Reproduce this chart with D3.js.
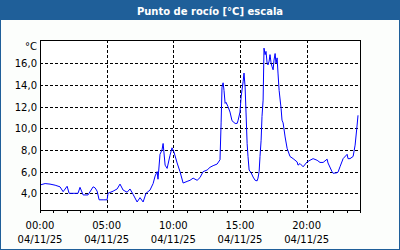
<!DOCTYPE html>
<html>
<head>
<meta charset="utf-8">
<script src="https://cdn.jsdelivr.net/npm/d3@7"></script>
<style>
  body { margin: 0; background: #fff; }
  svg { display: block; }
</style>
</head>
<body>
<div id="chart"></div>
<script>
// dew point readings, minutes since 00:00 on 04/11/25
const minutes = [0, 23, 45, 68, 90, 104, 122, 131, 153, 171, 180, 194, 216, 239, 248, 257, 266, 284, 302, 306,
  329, 347, 360, 374, 392, 405, 419, 437, 450, 464, 477, 495, 509, 518, 527, 531, 540, 549, 554, 563,
  572, 585, 594, 603, 617, 630, 644, 662, 675, 689, 707, 720, 734, 752, 765, 779, 797, 810, 815, 819,
  824, 828, 833, 837, 846, 855, 864, 878, 887, 891, 900, 905, 914, 918, 923, 927, 932, 936, 941, 950,
  959, 968, 977, 981, 986, 990, 995, 999, 1004, 1008, 1013, 1017, 1022, 1026, 1031, 1035, 1040, 1044, 1049, 1053,
  1058, 1062, 1067, 1071, 1076, 1085, 1089, 1094, 1103, 1112, 1125, 1139, 1157, 1161, 1170, 1184, 1202, 1215, 1229, 1247,
  1260, 1274, 1292, 1296, 1314, 1319, 1337, 1341, 1350, 1364, 1382, 1386, 1395, 1409, 1418, 1427, 1431];
const dewPoint = [4.77, 4.9, 4.85, 4.75, 4.6, 4.15, 4.65, 4.0, 4.0, 4.0, 4.55, 3.85, 3.85, 4.6, 4.5, 4.2, 3.4, 3.4, 3.4, 4.0,
  4.2, 4.4, 4.85, 4.3, 4.1, 4.4, 3.9, 3.2, 3.6, 3.2, 4.0, 4.3, 4.9, 5.6, 6.0, 5.3, 7.6, 8.0, 8.6, 6.6,
  6.3, 7.5, 8.2, 7.8, 6.8, 6.0, 4.95, 5.1, 5.2, 5.4, 5.2, 5.45, 6.0, 6.15, 6.4, 6.55, 6.7, 7.1, 10.5, 13.8,
  14.2, 13.5, 12.3, 12.4, 12.0, 11.5, 10.7, 10.45, 10.45, 10.7, 11.5, 12.9, 14.3, 15.1, 13.8, 11.5, 8.6, 7.4, 6.15, 5.9,
  5.5, 5.2, 5.15, 5.4, 6.0, 7.4, 8.9, 11.1, 12.6, 17.4, 16.8, 17.1, 16.0, 15.85, 16.2, 16.8, 16.0, 15.7, 15.4, 16.3,
  16.9, 16.0, 16.5, 15.1, 13.5, 11.8, 10.75, 10.5, 9.2, 8.15, 7.4, 7.2, 6.9, 6.6, 6.75, 6.45, 6.9, 7.05, 7.2, 7.05,
  6.85, 6.85, 7.15, 6.8, 6.0, 5.85, 5.9, 5.95, 6.45, 7.2, 7.6, 7.2, 7.2, 7.4, 8.45, 10.3, 11.2];

const yTicks = [4, 6, 8, 10, 12, 14, 16];
const xTickHours = [0, 5, 10, 15, 20];
const dateLabel = "04/11/25";
const title = "Punto de rocío [°C] escala";
const unit = "°C";

const width = 400, height = 250;
const plot = {left: 40, top: 40, right: 360, bottom: 210};
const frameBlue = "#1f5f99";

const svg = d3.select("#chart").append("svg")
    .attr("width", width)
    .attr("height", height)
    .style("font-family", "DejaVu Sans, Verdana, sans-serif");

// frame + title bar
svg.append("rect").attr("width", width).attr("height", height).attr("fill", frameBlue);
svg.append("rect")
    .attr("x", 1).attr("y", 20)
    .attr("width", width - 2).attr("height", height - 21)
    .attr("fill", "#fcfefc");
svg.append("text")
    .attr("x", 210).attr("y", 14.5)
    .attr("text-anchor", "middle")
    .attr("fill", "#fff")
    .style("font-size", "10px")
    .style("font-weight", "bold")
    .text(title);

const x = d3.scaleLinear().domain([0, 24 * 60]).range([plot.left, plot.right]);
const y = d3.scaleLinear().domain([2.46, 18.15]).range([plot.bottom, plot.top]);

svg.append("rect")
    .attr("x", plot.left).attr("y", plot.top)
    .attr("width", plot.right - plot.left).attr("height", plot.bottom - plot.top)
    .attr("fill", "#fff");

// dashed grid
const g = svg.append("g").attr("stroke", "#000").attr("stroke-dasharray", "3,2").attr("shape-rendering", "crispEdges");
g.selectAll("line.h").data(yTicks).enter().append("line")
    .attr("x1", plot.left).attr("x2", plot.right)
    .attr("y1", d => Math.round(y(d)) + 0.5).attr("y2", d => Math.round(y(d)) + 0.5);
g.selectAll("line.v").data(xTickHours.slice(1)).enter().append("line")
    .attr("x1", d => Math.round(x(d * 60)) + 0.5).attr("x2", d => Math.round(x(d * 60)) + 0.5)
    .attr("y1", plot.top).attr("y2", plot.bottom);

// hourly ticks under the plot
svg.append("g").selectAll("line").data(d3.range(0, 25)).enter().append("line")
    .attr("x1", d => Math.round(x(d * 60)) + 0.5).attr("x2", d => Math.round(x(d * 60)) + 0.5)
    .attr("y1", plot.bottom).attr("y2", plot.bottom + 3)
    .attr("stroke", "#000").attr("shape-rendering", "crispEdges");

// the series
const line = d3.line().x((d, i) => x(minutes[i])).y(d => y(d));
svg.append("path")
    .datum(dewPoint)
    .attr("fill", "none")
    .attr("stroke", "#0000ff")
    .attr("stroke-width", 1)
    .attr("d", line);

// plot border
svg.append("rect")
    .attr("x", plot.left + 0.5).attr("y", plot.top + 0.5)
    .attr("width", plot.right - plot.left).attr("height", plot.bottom - plot.top)
    .attr("fill", "none").attr("stroke", "#000").attr("shape-rendering", "crispEdges");

// labels
svg.append("g").selectAll("text").data(yTicks).enter().append("text")
    .attr("x", 37).attr("y", d => y(d) + 4)
    .attr("text-anchor", "end")
    .style("font-size", "10px")
    .text(d => d3.format(".1f")(d).replace(".", ","));
svg.append("text")
    .attr("x", 37).attr("y", 50)
    .attr("text-anchor", "end")
    .style("font-size", "10px")
    .text(unit);

const xl = svg.append("g").selectAll("g").data(xTickHours).enter().append("g");
xl.append("text")
    .attr("x", d => x(d * 60)).attr("y", 228.5)
    .attr("text-anchor", "middle")
    .style("font-size", "10px")
    .text(d => d3.format("02d")(d) + ":00");
xl.append("text")
    .attr("x", d => x(d * 60)).attr("y", 243)
    .attr("text-anchor", "middle")
    .style("font-size", "10px")
    .text(dateLabel);
</script>
</body>
</html>
